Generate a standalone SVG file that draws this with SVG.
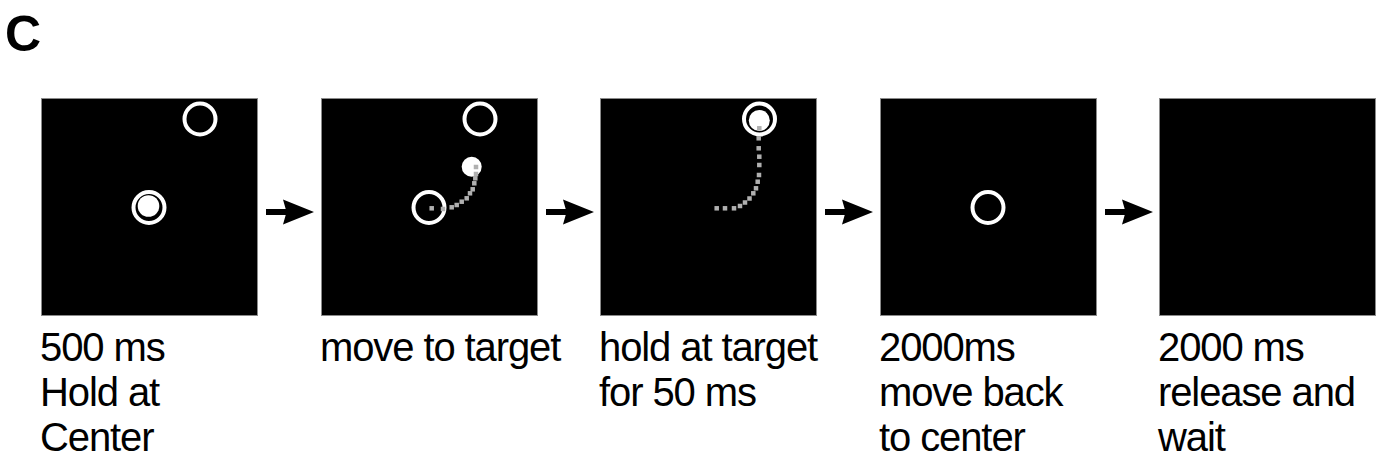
<svg xmlns="http://www.w3.org/2000/svg" xmlns:xlink="http://www.w3.org/1999/xlink" width="1383" height="462" viewBox="0 0 1383 462">
  <style>
    .screen { fill: #000; stroke: #8a8a8a; stroke-width: 1; }
    .ring { fill: none; stroke: #fff; stroke-width: 4; }
    .cursor { fill: #fff; }
    .trail { fill: #b0b0b0; }
    .label { font-family: "Liberation Sans", Arial, sans-serif; font-size: 40px; letter-spacing: -1.1px; fill: #000; }
    .panel-letter { font-family: "Liberation Sans", Arial, sans-serif; font-size: 50px; font-weight: bold; fill: #000; }
    .arrow { fill: #000; }
  </style>
  <defs>
    <!-- one trail sample of the hand path -->
    <rect id="dot" class="trail" x="-2.25" y="-2.25" width="4.5" height="4.5"/>
    <!-- block arrow between screens, origin at the tail, centred vertically -->
    <path id="arrow" class="arrow" d="M0,-3 L19.7,-3 L17,-12.5 L48,0 L17,12.5 L19.7,3 L0,3 Z"/>
  </defs>

  <rect width="1383" height="462" fill="#fff"/>

  <text class="panel-letter" x="5" y="51">C</text>

  <!-- step 1: hold at centre -->
  <g id="step1" transform="translate(41,98)">
    <rect class="screen" x="0.5" y="0.5" width="216" height="217"/>
    <circle class="ring" cx="159" cy="21" r="15.5"/>
    <circle class="ring" cx="108" cy="109.5" r="15.5"/>
    <circle class="cursor" cx="107.5" cy="108" r="10.8"/>
    <text class="label" x="-1" y="263">500 ms</text>
    <text class="label" x="-1" y="308">Hold at</text>
    <text class="label" x="-1" y="353">Center</text>
  </g>

  <!-- step 2: reach toward the target -->
  <g id="step2" transform="translate(321,98)">
    <rect class="screen" x="0.5" y="0.5" width="216" height="217"/>
    <circle class="ring" cx="159" cy="21" r="15.5"/>
    <circle class="ring" cx="108" cy="109.5" r="15.5"/>
    <circle class="cursor" cx="150.7" cy="68.7" r="10"/>
    <g>
      <use xlink:href="#dot" x="110.7" y="110.3"/>
      <use xlink:href="#dot" x="122" y="111"/>
      <use xlink:href="#dot" x="130.7" y="109.3"/>
      <use xlink:href="#dot" x="135.7" y="107"/>
      <use xlink:href="#dot" x="140.7" y="103.7"/>
      <use xlink:href="#dot" x="145.7" y="100.3"/>
      <use xlink:href="#dot" x="149" y="95.3"/>
      <use xlink:href="#dot" x="151.7" y="91.3"/>
      <use xlink:href="#dot" x="153.3" y="85.3"/>
      <use xlink:href="#dot" x="154.3" y="80.3"/>
      <use xlink:href="#dot" x="155" y="76"/>
      <use xlink:href="#dot" x="155" y="69"/>
    </g>
    <text class="label" x="-1" y="263">move to target</text>
  </g>

  <!-- step 3: hold inside the target -->
  <g id="step3" transform="translate(600,98)">
    <rect class="screen" x="0.5" y="0.5" width="216" height="217"/>
    <circle class="ring" cx="159.5" cy="21" r="15.5"/>
    <circle class="cursor" cx="159.3" cy="22.5" r="10.5"/>
    <g>
      <use xlink:href="#dot" x="116.7" y="110.3"/>
      <use xlink:href="#dot" x="125" y="110.3"/>
      <use xlink:href="#dot" x="134" y="110.3"/>
      <use xlink:href="#dot" x="140" y="108"/>
      <use xlink:href="#dot" x="145" y="104.5"/>
      <use xlink:href="#dot" x="149.5" y="100.5"/>
      <use xlink:href="#dot" x="153.3" y="95.3"/>
      <use xlink:href="#dot" x="156" y="90.3"/>
      <use xlink:href="#dot" x="157.7" y="83.7"/>
      <use xlink:href="#dot" x="159" y="77"/>
      <use xlink:href="#dot" x="159.3" y="67"/>
      <use xlink:href="#dot" x="159.3" y="58.7"/>
      <use xlink:href="#dot" x="158.7" y="50.3"/>
      <use xlink:href="#dot" x="158.7" y="40.3"/>
      <use xlink:href="#dot" x="159.3" y="30.3"/>
    </g>
    <text class="label" x="-1" y="263">hold at target</text>
    <text class="label" x="-1" y="308">for 50 ms</text>
  </g>

  <!-- step 4: return to centre -->
  <g id="step4" transform="translate(880,98)">
    <rect class="screen" x="0.5" y="0.5" width="216" height="217"/>
    <circle class="ring" cx="108" cy="109.5" r="15.5"/>
    <text class="label" x="-1" y="263">2000ms</text>
    <text class="label" x="-1" y="308">move back</text>
    <text class="label" x="-1" y="353">to center</text>
  </g>

  <!-- step 5: release and wait -->
  <g id="step5" transform="translate(1159,98)">
    <rect class="screen" x="0.5" y="0.5" width="216" height="217"/>
    <text class="label" x="-1" y="263">2000 ms</text>
    <text class="label" x="-1" y="308">release and</text>
    <text class="label" x="-1" y="353">wait</text>
  </g>

  <g id="connectors">
    <use xlink:href="#arrow" x="266" y="212"/>
    <use xlink:href="#arrow" x="546" y="212"/>
    <use xlink:href="#arrow" x="825" y="212"/>
    <use xlink:href="#arrow" x="1105" y="212"/>
  </g>
</svg>
